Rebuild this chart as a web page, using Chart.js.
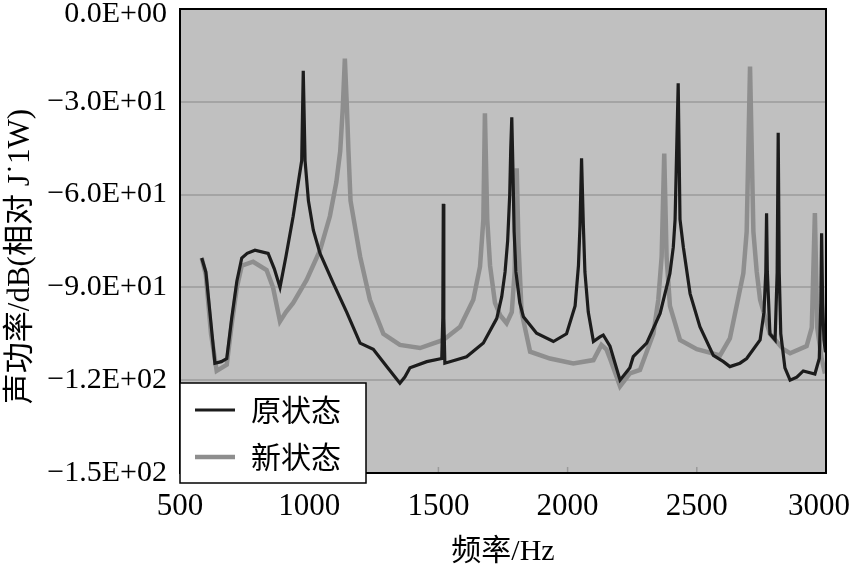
<!DOCTYPE html>
<html>
<head>
<meta charset="utf-8">
<script src="https://cdn.jsdelivr.net/npm/chart.js@4/dist/chart.umd.min.js"></script>
<style>
  html, body { margin: 0; padding: 0; background: #ffffff; }
  #wrap { width: 853px; height: 567px; }
</style>
</head>
<body>
<div id="wrap"><canvas id="c" width="853" height="567"></canvas></div>
<script>
// ---- Data ----
const seriesNames = ['原状态', '新状态'];

const freqOriginal = [584, 600, 618, 635, 660, 681, 700, 720, 739, 760, 790, 841, 865, 887, 910, 938, 958, 971, 977, 984, 997, 1016, 1042, 1093, 1145, 1197, 1248, 1300, 1351, 1370, 1390, 1455, 1513, 1517, 1519, 1521, 1525, 1609, 1674, 1726, 1745, 1758, 1768, 1776, 1780, 1784, 1788, 1793, 1800, 1815, 1829, 1880, 1945, 1996, 2029, 2042, 2048, 2054, 2061, 2067, 2080, 2100, 2125, 2138, 2164, 2203, 2241, 2254, 2306, 2358, 2396, 2409, 2416, 2428, 2435, 2448, 2474, 2512, 2564, 2603, 2628, 2667, 2693, 2745, 2760, 2767, 2770, 2773, 2783, 2803, 2811, 2815, 2819, 2825, 2841, 2861, 2887, 2912, 2957, 2974, 2980, 2983, 2987, 2992, 2998];
const valOriginal  = [-80.5, -85, -100, -114.5, -114, -113, -100, -88, -80.5, -79, -78, -79, -84, -90, -80, -67, -56, -49, -20, -49, -62, -71.5, -79, -88.6, -98, -108, -110, -115.6, -121, -119, -116, -114, -113, -100, -63, -100, -114.5, -112.4, -108, -100, -93, -85, -75, -60, -45, -35, -50, -72, -85, -95, -99.5, -104.8, -107.5, -105, -96, -83, -70, -48.3, -70, -85, -98, -107.5, -106, -105.4, -109, -120, -116, -112.4, -108, -98.4, -85.5, -77, -68, -24, -68, -77, -92, -102.7, -112, -114, -115.6, -114.5, -113, -107, -98, -85, -66, -85, -105, -107, -85, -40, -85, -105, -116, -120, -119, -117, -118, -113, -95, -72.5, -95, -107, -111];

const freqNew = [584, 600, 620, 642, 681, 700, 720, 739, 783, 835, 860, 887, 910, 938, 990, 1042, 1080, 1105, 1120, 1130, 1138, 1146, 1152, 1160, 1197, 1235, 1287, 1351, 1429, 1519, 1584, 1635, 1661, 1674, 1680, 1689, 1700, 1719, 1739, 1764, 1784, 1795, 1803, 1810, 1822, 1855, 1932, 2022, 2100, 2131, 2150, 2164, 2203, 2241, 2280, 2332, 2351, 2364, 2374, 2383, 2396, 2435, 2500, 2590, 2628, 2654, 2680, 2693, 2706, 2719, 2732, 2745, 2783, 2835, 2861, 2925, 2945, 2957, 2966, 2983, 2996];
const valNew  = [-80.5, -86, -105, -117, -115, -102, -90, -83, -81.7, -84.4, -90, -101, -98, -95, -87.6, -78, -67, -56, -46, -32, -16, -32, -46, -62, -80, -94, -105, -108.6, -109.6, -107, -102.7, -94, -83.3, -68, -33.7, -68, -83, -95, -99, -101.6, -98, -85, -51.5, -76, -98, -110.8, -113, -114.6, -113.5, -108.6, -110, -113, -122, -117.8, -116.7, -105, -94, -80, -46.7, -80, -96, -107, -110, -112, -106.5, -96, -85.5, -72, -18.6, -72, -85, -94, -105, -110, -111.3, -109, -103, -66, -103, -113, -117.8];

const xTickValues = [500, 1000, 1500, 2000, 2500, 3000];
const yTickValues = [0, -30, -60, -90, -120, -150];
const yTickLabels = ['0.0E+00', '\u22123.0E+01', '\u22126.0E+01', '\u22129.0E+01', '\u22121.2E+02', '\u22121.5E+02'];
const xTitle = '频率/Hz';
const yTitle = '声功率/dB(相对 J˙1W)';

// ---- Build library structures ----
const toPoints = (xs, ys) => xs.map((x, i) => ({ x: x, y: ys[i] }));
const serifFont = "'Liberation Serif', 'Times New Roman', serif";
const cjkFont = "'Liberation Serif', 'Noto Sans CJK SC', serif";
const lineColors = ['#1c1c1c', '#8e8e8e'];
const lineWidths = [3.2, 4.5];

const framePlugin = {
  id: 'frame',
  beforeDraw(chart) {
    const { ctx, chartArea: a } = chart;
    ctx.save();
    ctx.fillStyle = '#c0c0c0';
    ctx.fillRect(a.left, a.top, a.right - a.left, a.bottom - a.top);
    ctx.restore();
    // nudge the edge tick labels inward, as in the reference
    const ys = chart.scales.y, xs = chart.scales.x;
    ys.getLabelItems(a).forEach(it => {
      if (it.label === yTickLabels[0]) it.options.translation[1] = ys.getPixelForValue(yTickValues[0]) + 5;
    });
    xs.getLabelItems(a).forEach(it => {
      if (it.label === String(xTickValues[xTickValues.length - 1])) it.options.translation[0] = xs.getPixelForValue(xTickValues[xTickValues.length - 1]) - 7;
    });
  },
  afterDraw(chart) {
    const { ctx, chartArea: a } = chart;
    ctx.save();
    ctx.strokeStyle = '#000';
    ctx.lineWidth = 2;
    ctx.strokeRect(a.left, a.top, a.right - a.left, a.bottom - a.top);
    // small inner tick marks on the bottom edge
    const xs = chart.scales.x;
    ctx.strokeStyle = '#9a9a9a';
    ctx.lineWidth = 1.5;
    xTickValues.slice(1, -1).forEach(v => {
      const px = xs.getPixelForValue(v);
      ctx.beginPath();
      ctx.moveTo(px, a.bottom - 1);
      ctx.lineTo(px, a.bottom - 6);
      ctx.stroke();
    });
    // legend box
    const lx = a.left, ly = a.bottom - 90, lw = 186, lh = 100;
    ctx.fillStyle = '#ffffff';
    ctx.fillRect(lx, ly, lw, lh);
    ctx.lineWidth = 1.5;
    ctx.strokeStyle = '#000';
    ctx.strokeRect(lx, ly, lw, lh);
    seriesNames.forEach((name, i) => {
      const cy = ly + 27 + i * 47;
      ctx.beginPath();
      ctx.strokeStyle = lineColors[i];
      ctx.lineWidth = lineWidths[i];
      ctx.moveTo(lx + 15, cy);
      ctx.lineTo(lx + 55, cy);
      ctx.stroke();
      ctx.fillStyle = '#000';
      ctx.font = "30px 'Noto Sans CJK SC'";
      ctx.textBaseline = 'middle';
      ctx.textAlign = 'left';
      ctx.fillText(name, lx + 71, cy);
    });
    ctx.restore();
  }
};

function zeroPad(scale) {
  scale.paddingTop = 0; scale.paddingBottom = 0;
  scale.paddingLeft = 0; scale.paddingRight = 0;
}

new Chart(document.getElementById('c'), {
  type: 'line',
  data: {
    datasets: [
      { label: seriesNames[0], data: toPoints(freqOriginal, valOriginal), borderColor: lineColors[0], borderWidth: lineWidths[0], pointRadius: 0, tension: 0, fill: false, order: 0 },
      { label: seriesNames[1], data: toPoints(freqNew, valNew), borderColor: lineColors[1], borderWidth: lineWidths[1], pointRadius: 0, tension: 0, fill: false, order: 1 }
    ]
  },
  options: {
    responsive: false,
    animation: false,
    layout: { padding: { top: 9, right: 27, left: 0, bottom: 0 } },
    plugins: { legend: { display: false }, tooltip: { enabled: false } },
    scales: {
      x: {
        type: 'linear',
        min: 500, max: 3000,
        afterBuildTicks(scale) { scale.ticks = xTickValues.map(v => ({ value: v })); },
        afterFit(scale) { scale.height = 94; zeroPad(scale); },
        grid: { display: false, drawTicks: false },
        border: { display: false },
        ticks: { color: '#000', font: { family: serifFont, size: 31 }, padding: 15, maxRotation: 0,
                 callback: (v) => String(v) },
        title: { display: true, text: xTitle, color: '#000', font: { family: cjkFont, size: 30, lineHeight: 1 }, padding: { top: 0, bottom: 0 } }
      },
      y: {
        type: 'linear',
        min: -150, max: 0,
        afterBuildTicks(scale) { scale.ticks = yTickValues.map(v => ({ value: v })); },
        afterFit(scale) { scale.width = 180; zeroPad(scale); },
        grid: { color: '#a4a4a4', lineWidth: 2, drawTicks: false },
        border: { display: false },
        ticks: { color: '#000', font: { family: serifFont, size: 30 }, padding: 13,
                 callback: (v) => { const i = yTickValues.indexOf(v); return i >= 0 ? yTickLabels[i] : ''; } },
        title: { display: true, text: yTitle + '\u2002\u2002', color: '#000', font: { family: cjkFont, size: 31 }, padding: { top: 2, bottom: 0 } }
      }
    }
  },
  plugins: [framePlugin]
});
</script>
</body>
</html>
